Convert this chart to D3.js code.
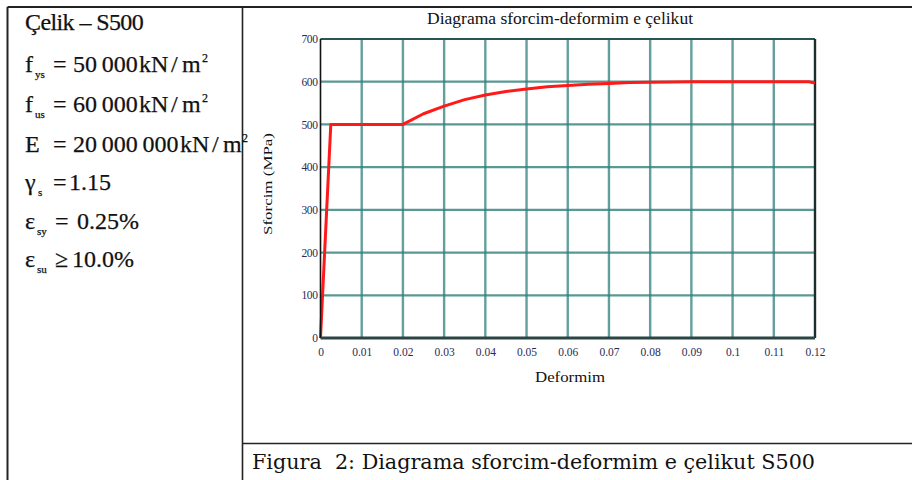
<!DOCTYPE html>
<html><head><meta charset="utf-8">
<script src="https://cdn.jsdelivr.net/npm/d3@7"></script>
<style>body{margin:0;background:#fff}svg{display:block}</style>
</head><body>
<script>
// Data
const strain = [0, 0.0025, 0.02, 0.025, 0.03, 0.035, 0.04, 0.045, 0.05, 0.055, 0.06, 0.065, 0.07, 0.075, 0.08, 0.09, 0.10, 0.11, 0.1185, 0.12];
const stress = [0, 500, 500, 525, 543, 558, 569, 577, 583, 588, 591, 594, 596, 598, 599, 600, 600, 600, 600, 597];
const xTicks = [0, 0.01, 0.02, 0.03, 0.04, 0.05, 0.06, 0.07, 0.08, 0.09, 0.1, 0.11, 0.12];
const xTickLabels = ["0", "0.01", "0.02", "0.03", "0.04", "0.05", "0.06", "0.07", "0.08", "0.09", "0.1", "0.11", "0.12"];
const yTicks = [0, 100, 200, 300, 400, 500, 600, 700];
const chartTitle = "Diagrama sforcim-deformim e çelikut";
const xLabel = "Deformim";
const yLabel = "Sforcim (MPa)";
const caption = "Figura\u00a0 2: Diagrama sforcim-deformim e çelikut S500";

const W = 912, H = 480;
const svg = d3.select("body").append("svg").attr("width", W).attr("height", H);
const serif = "'Liberation Serif','Times New Roman',serif";

// Table frame
const frame = svg.append("g").attr("stroke", "#222").attr("fill", "none");
frame.append("line").attr("x1", 7.5).attr("x2", W).attr("y1", 7).attr("y2", 7).attr("stroke-width", 2);
frame.append("line").attr("x1", 7.5).attr("x2", 7.5).attr("y1", 7).attr("y2", H).attr("stroke-width", 2);
frame.append("line").attr("x1", 242.5).attr("x2", 242.5).attr("y1", 7).attr("y2", H).attr("stroke-width", 1.6);
frame.append("line").attr("x1", 242.5).attr("x2", W).attr("y1", 443.5).attr("y2", 443.5).attr("stroke-width", 1.6);

// Left text block
const lt = svg.append("g").attr("font-family", serif).attr("fill", "#111").attr("font-size", 24)
  .attr("stroke", "#111").attr("stroke-width", 0.25);
// tokens: [text, x, kind] kind: n normal, b sub, p sup
function eq(y, toks) {
  toks.forEach(([t, xx, k]) => {
    const e = lt.append("text").attr("x", xx).attr("y", k === "b" ? y + 6 : k === "p" ? y - 10 : y).text(t);
    if (k === "b") e.attr("font-size", 11);
    if (k === "p") e.attr("font-size", 12);
  });
}
lt.append("text").attr("x", 25).attr("y", 30).attr("letter-spacing", -0.6).text("Çelik – S500");
eq(72, [["f", 25], ["ys", 35, "b"], ["=", 53], ["50\u2009000", 73], ["kN", 139], ["/", 171], ["m", 182], ["2", 202, "p"]]);
eq(112, [["f", 25], ["us", 35, "b"], ["=", 53], ["60\u2009000", 73], ["kN", 139], ["/", 171], ["m", 182], ["2", 202, "p"]]);
eq(152, [["E", 25], ["=", 53], ["20\u2009000\u2009000", 73], ["kN", 180], ["/", 212], ["m", 223], ["2", 242, "p"]]);
eq(190, [["γ", 25], ["s", 38, "b"], ["=", 53], ["1.15", 69]]);
eq(229, [["ε", 25], ["sy", 37, "b"], ["=", 55], ["0.25%", 77]]);
eq(267, [["ε", 25], ["su", 37, "b"], ["≥", 55], ["10.0%", 72]]);

// Chart
const x = d3.scaleLinear().domain([0, 0.12]).range([320.5, 815]);
const y = d3.scaleLinear().domain([0, 700]).range([338, 39]);
const g = svg.append("g");
const grid = "#2f7f7b";
g.selectAll(".vg").data(xTicks.slice(1, -1)).join("line")
  .attr("x1", d => x(d)).attr("x2", d => x(d)).attr("y1", y(700)).attr("y2", y(0))
  .attr("stroke", grid).attr("stroke-opacity", 0.75).attr("stroke-width", 2.4);
g.selectAll(".hg").data(yTicks.slice(1, -1)).join("line")
  .attr("x1", x(0)).attr("x2", x(0.12)).attr("y1", d => y(d)).attr("y2", d => y(d))
  .attr("stroke", grid).attr("stroke-opacity", 0.8).attr("stroke-width", 2.2);
// plot border
g.append("line").attr("x1", x(0)).attr("x2", x(0.12)).attr("y1", y(700)).attr("y2", y(700)).attr("stroke", "#2a5552").attr("stroke-width", 2.2);
g.append("line").attr("x1", x(0.12)).attr("x2", x(0.12)).attr("y1", y(700)).attr("y2", y(0)).attr("stroke", "#1b2e2d").attr("stroke-width", 2.4);
g.append("line").attr("x1", x(0)).attr("x2", x(0.12)).attr("y1", y(0)).attr("y2", y(0)).attr("stroke", "#2a4544").attr("stroke-width", 2.8);

// line
const pts = strain.map((s, i) => [s, stress[i]]);
g.append("path").datum(pts).attr("fill", "none").attr("stroke", "#ff1a1a").attr("stroke-width", 3)
  .attr("stroke-linejoin", "round")
  .attr("d", d3.line().x(d => x(d[0])).y(d => y(d[1])));
// left axis line
g.append("line").attr("x1", x(0)).attr("x2", x(0)).attr("y1", y(700)).attr("y2", y(0)).attr("stroke", "#111").attr("stroke-width", 1.6);

// axes (labels)
const xAxis = d3.axisBottom(x).tickValues(xTicks).tickSize(0).tickPadding(10).tickFormat((d, i) => xTickLabels[i]);
const xa = svg.append("g").attr("transform", `translate(0,${y(0)})`).call(xAxis);
xa.select(".domain").remove();
xa.selectAll("text").attr("font-family", serif).attr("font-size", 11.5).attr("fill", "#2a2a55");
const yAxis = d3.axisLeft(y).tickValues(yTicks).tickSize(0).tickPadding(3);
const ya = svg.append("g").attr("transform", `translate(${x(0)},0)`).call(yAxis);
ya.select(".domain").remove();
ya.selectAll("text").attr("font-family", serif).attr("font-size", 11.5).attr("fill", "#2a2a55").attr("letter-spacing", -0.4);

// titles
svg.append("text").attr("x", 427).attr("y", 24).attr("font-family", serif)
  .attr("font-size", 16).attr("fill", "#111").attr("textLength", 266).attr("lengthAdjust", "spacingAndGlyphs").text(chartTitle);
svg.append("text").attr("x", 535).attr("y", 382).attr("font-family", serif)
  .attr("font-size", 15).attr("fill", "#111").attr("textLength", 70).attr("lengthAdjust", "spacingAndGlyphs").text(xLabel);
svg.append("text").attr("transform", "translate(272,235) rotate(-90)").attr("font-family", serif)
  .attr("font-size", 13).attr("fill", "#111").attr("textLength", 102).attr("lengthAdjust", "spacingAndGlyphs").text(yLabel);

// caption
svg.append("text").attr("x", 252).attr("y", 469).attr("font-family", "'DejaVu Serif',serif")
  .attr("font-size", 19.5).attr("fill", "#111").attr("textLength", 563).attr("lengthAdjust", "spacingAndGlyphs").text(caption);
</script>
</body></html>
